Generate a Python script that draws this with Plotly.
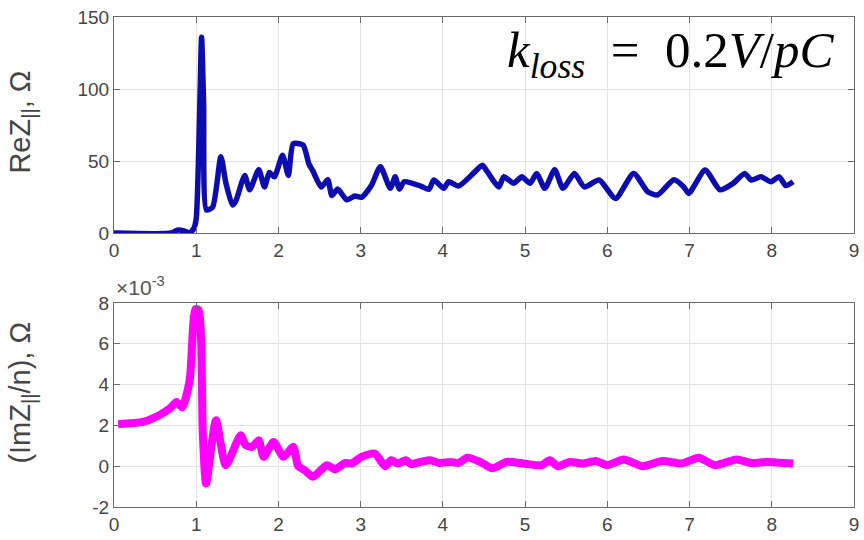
import plotly.graph_objects as go

# ---- data ----
re_x = [0, 0.70, 0.77, 0.85, 0.92, 0.97, 1.00, 1.04, 1.065, 1.09, 1.125, 1.20, 1.30, 1.36, 1.44, 1.48,
        1.59, 1.65, 1.76, 1.83, 1.89, 1.95, 2.05, 2.12, 2.18, 2.30, 2.37, 2.42, 2.52, 2.60, 2.65,
        2.72, 2.83, 2.93, 3.01, 3.13, 3.24, 3.36, 3.42, 3.47, 3.53, 3.73, 3.83, 3.89, 4.01, 4.07,
        4.19, 4.37, 4.48, 4.54, 4.68, 4.74, 4.86, 4.96, 5.06, 5.14, 5.24, 5.36, 5.46, 5.60, 5.72,
        5.90, 6.10, 6.32, 6.49, 6.61, 6.81, 6.93, 6.99, 7.19, 7.37, 7.53, 7.67, 7.75, 7.87, 7.99,
        8.09, 8.17, 8.26]
re_z = [0, 0, 2, 1.5, 0, 3, 10, 80, 136, 90, 16, 18, 53, 35, 19.5, 22,
        40, 30, 44, 32, 42, 39, 54, 40, 62, 61, 48, 43, 32, 37, 26,
        30.5, 23, 25.7, 24.8, 33, 46, 31, 39, 30.5, 35.6, 32.6, 30.3, 36.8, 31, 35.6,
        32.6, 41.4, 47, 42.6, 32, 39, 34.5, 39, 34.5, 41.4, 31, 44, 31, 41.4, 32,
        36.8, 24, 41.4, 28.7, 26.4, 37, 32, 27.5, 43.7, 30, 34.5, 41.4, 36.8, 39, 35.6,
        39, 33, 35.6]

im_x = [0.05, 0.35, 0.55, 0.68, 0.76, 0.83, 0.92, 0.99, 1.03, 1.08, 1.12, 1.24, 1.36, 1.54, 1.60,
        1.68, 1.76, 1.82, 1.94, 2.06, 2.18, 2.24, 2.32, 2.42, 2.59, 2.69, 2.81, 2.89, 3.01, 3.17,
        3.30, 3.37, 3.45, 3.55, 3.61, 3.73, 3.85, 3.95, 4.09, 4.19, 4.30, 4.46, 4.60, 4.78, 4.98,
        5.20, 5.30, 5.40, 5.54, 5.70, 5.86, 6.00, 6.20, 6.43, 6.67, 6.91, 7.11, 7.31, 7.57, 7.75,
        7.95, 8.26]
im_z_e3 = [2.06, 2.17, 2.5, 2.83, 3.15, 2.88, 4.2, 7.7, 7.65, 1.6, -0.85, 2.25, 0.05, 1.52, 1.03,
           0.95, 1.27, 0.46, 1.19, 0.46, 0.95, 0, -0.2, -0.52, 0.05, -0.16, 0.16, 0.13, 0.46, 0.62,
           0, 0.29, 0.13, 0.29, 0.1, 0.21, 0.29, 0.16, 0.21, 0.16, 0.42, 0.2, -0.1, 0.21, 0.13,
           0.05, 0.29, 0, 0.21, 0.13, 0.26, 0.05, 0.33, 0, 0.26, 0.13, 0.42, 0.05, 0.33, 0.16,
           0.21, 0.13]

x_ticks = list(range(0, 10))
re_ticks = [0, 50, 100, 150]
im_ticks = [-2, 0, 2, 4, 6, 8]
im_ticktext = ["-2", "0", "2", "4", "6", "8"]

# ---- figure ----
W, H = 864, 540
ML, MR, MT, MB = 114, 5, 17, 33
PW, PH = W - ML - MR, H - MT - MB

def py(p):  # pixel y -> paper y
    return (H - MB - p) / PH

def px(p):
    return (p - ML) / PW

fig = go.Figure()
fig.add_trace(go.Scatter(x=re_x, y=re_z, mode="lines", xaxis="x", yaxis="y",
                         line=dict(color="#0c0cb0", width=5.5, shape="spline", smoothing=0.6),
                         showlegend=False))
fig.add_trace(go.Scatter(x=im_x, y=im_z_e3, mode="lines", xaxis="x2", yaxis="y2",
                         line=dict(color="#ff00ff", width=8, shape="spline", smoothing=0.6),
                         showlegend=False))

tickfont = dict(family="Liberation Sans, Arial, sans-serif", size=19, color="#454545")
axcommon = dict(showline=True, linecolor="#6a6a6a", linewidth=1, mirror="ticks",
                ticks="inside", ticklen=6, tickcolor="#6a6a6a",
                showgrid=True, gridcolor="#e2e2e2", gridwidth=1, zeroline=False,
                tickfont=tickfont, ticklabeloverflow="allow")

titlefont = dict(family="Liberation Sans, Arial, sans-serif", size=29, color="#454545")

fig.update_layout(
    width=W, height=H,
    margin=dict(l=ML, r=MR, t=MT, b=MB),
    paper_bgcolor="white", plot_bgcolor="white",
    xaxis=dict(domain=[0, 1], anchor="y", range=[0, 9], tickvals=x_ticks, **axcommon),
    yaxis=dict(domain=[py(233), 1], anchor="x", range=[0, 150], tickvals=re_ticks, **axcommon),
    xaxis2=dict(domain=[0, 1], anchor="y2", range=[0, 9], tickvals=x_ticks, **axcommon),
    yaxis2=dict(domain=[0, py(303)], anchor="x2", range=[-2, 8], tickvals=im_ticks,
                ticktext=im_ticktext, **axcommon),
    annotations=[
        dict(text="ReZ<sub>||</sub>, Ω", xref="paper", yref="paper", x=px(21), y=py(122),
             textangle=-90, showarrow=False, xanchor="center", yanchor="middle", font=titlefont),
        dict(text="(ImZ<sub>||</sub>/n), Ω", xref="paper", yref="paper", x=px(21), y=py(393),
             textangle=-90, showarrow=False, xanchor="center", yanchor="middle", font=titlefont),
        dict(text="×10<sup>-3</sup>", xref="paper", yref="paper", x=px(114), y=py(301),
             showarrow=False, xanchor="left", yanchor="bottom",
             font=dict(family="Liberation Sans, Arial, sans-serif", size=21, color="#555555")),
        dict(text="<i>k</i><sub><i>loss</i></sub>\u00a0\u00a0=\u00a0\u00a00.2<i>V</i>/<i>pC</i>",
             xref="paper", yref="paper",
             x=px(842), y=py(54), showarrow=False, xanchor="right", yanchor="middle",
             font=dict(family="Liberation Serif, DejaVu Serif, serif", size=51, color="black")),
    ],
)

fig.write_html("out.html")
